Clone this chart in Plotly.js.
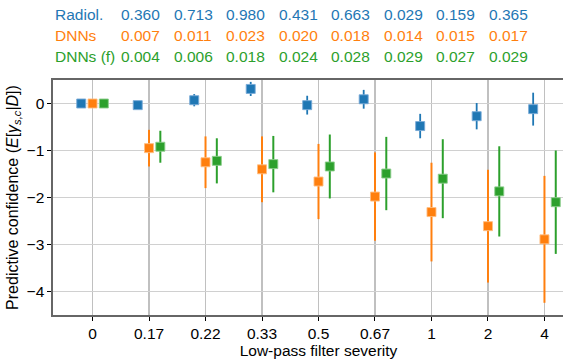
<!DOCTYPE html>
<html>
<head>
<meta charset="utf-8">
<script src="https://cdn.plot.ly/plotly-3.0.1.min.js"></script>
<style>
html,body{margin:0;padding:0;overflow:hidden;background:#fff;}
#chart{width:590px;height:360px;}
</style>
</head>
<body>
<div id="chart"></div>
<script>
// ---- data ----
const categories = ["0", "0.17", "0.22", "0.33", "0.5", "0.67", "1", "2", "4"];

const radiolMean = [0.0, -0.035, 0.07, 0.31, -0.035, 0.09, -0.48, -0.27, -0.12];
const radiolErr  = [0.0, 0.08, 0.13, 0.15, 0.20, 0.20, 0.26, 0.28, 0.35];

const dnnMean = [0.0, -0.95, -1.25, -1.40, -1.66, -1.98, -2.31, -2.61, -2.89];
const dnnErr  = [0.0, 0.39, 0.55, 0.70, 0.80, 0.94, 1.05, 1.20, 1.35];

const dnnfMean = [0.0, -0.92, -1.22, -1.29, -1.34, -1.49, -1.60, -1.87, -2.10];
const dnnfErr  = [0.0, 0.34, 0.48, 0.60, 0.68, 0.78, 0.84, 0.96, 1.10];

const rowLabels = ["Radiol.", "DNNs", "DNNs (f)"];
const radiolScores = [0.360, 0.713, 0.980, 0.431, 0.663, 0.029, 0.159, 0.365];
const dnnScores    = [0.007, 0.011, 0.023, 0.020, 0.018, 0.014, 0.015, 0.017];
const dnnfScores   = [0.004, 0.006, 0.018, 0.024, 0.028, 0.029, 0.027, 0.029];

// ---- styles ----
const colors = ["#1f77b4", "#ff7f0e", "#2ca02c"];
const edge = ["rgba(120,170,215,0.9)", "rgba(255,190,130,0.9)", "rgba(140,205,140,0.9)"];
const offsets = [-0.2, 0, 0.2];
const FONT = "Liberation Sans, Arial, Helvetica, sans-serif";

const series = [
  {mean: radiolMean, err: radiolErr},
  {mean: dnnMean, err: dnnErr},
  {mean: dnnfMean, err: dnnfErr}
];

const traces = series.map((s, k) => ({
  type: "scatter",
  mode: "markers",
  x: categories.map((c, i) => i + offsets[k]),
  y: s.mean,
  error_y: {type: "data", array: s.err, visible: true, color: colors[k], thickness: k === 0 ? 1.8 : 2, width: 0},
  marker: {symbol: "square", size: 9, color: colors[k], line: {width: 1, color: edge[k]}},
  showlegend: false,
  hoverinfo: "skip"
}));

// ---- top score rows ----
const W = 590, H = 360;
const ML = 53, MR = 6, MT = 80, MB = 45;
const plotW = W - ML - MR, plotH = H - MT - MB;
const toPX = px => (px - ML) / plotW;
const toPY = py => (H - MB - py) / plotH;

const rows = [radiolScores, dnnScores, dnnfScores];
const rowY = [15, 36, 57];
const annotations = [];
rows.forEach((vals, r) => {
  annotations.push({
    xref: "paper", yref: "paper", x: toPX(53), y: toPY(rowY[r]),
    xanchor: "left", yanchor: "middle", showarrow: false,
    text: rowLabels[r], font: {family: FONT, size: 15.5, color: colors[r]}
  });
  vals.forEach((v, i) => {
    annotations.push({
      xref: "paper", yref: "paper", x: toPX(119 + i * 52.5), y: toPY(rowY[r]),
      xanchor: "left", yanchor: "middle", showarrow: false,
      text: v.toFixed(3), font: {family: FONT, size: 15.5, color: colors[r]}
    });
  });
});

const layout = {
  width: W, height: H,
  margin: {l: ML, r: MR, t: MT, b: MB, pad: 0},
  paper_bgcolor: "#fff", plot_bgcolor: "#fff",
  font: {family: FONT, size: 15.5, color: "#000"},
  xaxis: {
    range: [-0.7, 8.7],
    tickmode: "array",
    tickvals: categories.map((c, i) => i),
    ticktext: categories,
    showgrid: true, gridcolor: "#c0c0c0", gridwidth: 1.2,
    zeroline: false,
    showline: true, linecolor: "#666", linewidth: 1.6, mirror: true,
    ticks: "outside", ticklen: 4, tickwidth: 1, tickcolor: "#000",
    title: {text: "Low-pass filter severity", font: {family: FONT, size: 15.5}, standoff: 3}
  },
  yaxis: {
    range: [-4.5, 0.5],
    tickvals: [0, -1, -2, -3, -4],
    showgrid: true, gridcolor: "#d0d0d0", gridwidth: 1.6,
    zeroline: false,
    showline: true, linecolor: "#666", linewidth: 1.6, mirror: true,
    ticks: "outside", ticklen: 4, tickwidth: 1, tickcolor: "#000",
    title: {text: "Predictive confidence (<i>E</i>[<i>γ</i><sub><i>s,c</i></sub>|<i>D</i>])", font: {family: FONT, size: 16}, standoff: 4}
  },
  annotations: annotations
};

Plotly.newPlot("chart", traces, layout, {displayModeBar: false, staticPlot: true});
</script>
</body>
</html>
